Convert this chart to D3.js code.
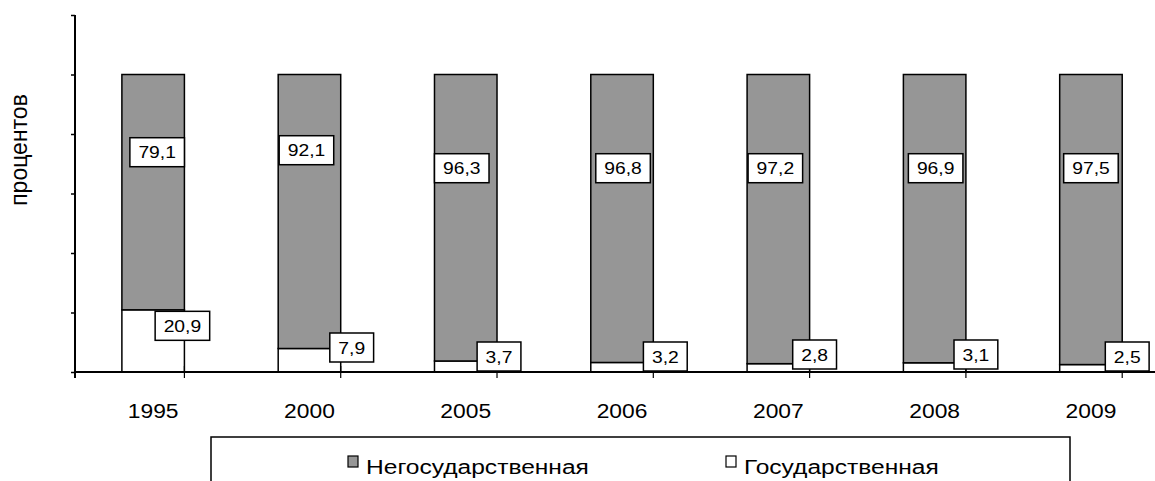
<!DOCTYPE html>
<html>
<head>
<meta charset="utf-8">
<script src="https://cdn.jsdelivr.net/npm/d3@7/dist/d3.min.js"></script>
<style>
  body { margin: 0; background: #fff; }
  text { font-family: Arial, "Liberation Sans", sans-serif; fill: #000; }
</style>
</head>
<body>
<script>
  // data
  var years = ["1995", "2000", "2005", "2006", "2007", "2008", "2009"];
  var nonState = [79.1, 92.1, 96.3, 96.8, 97.2, 96.9, 97.5];
  var state = [20.9, 7.9, 3.7, 3.2, 2.8, 3.1, 2.5];
  var seriesNames = ["Негосударственная", "Государственная"];
  var yTicks = [0, 20, 40, 60, 80, 100, 120];

  // hand-placed label offsets (px) as in the original
  var nonNudge = [[4, -16], [-3, -18], [-4, 0], [1, 0], [-3, 0], [1, 0], [0, 0]];
  var govNudge = [[-8, 0], [5, -9], [-4, 0], [6, 0], [-1, -2], [4, -2], [-1, 0]];

  var width = 1155, height = 481;
  var margin = { top: 15, left: 75, bottom: 109 };
  var axisY = height - margin.bottom; // 372
  var stretch = 1.17; // the source picture is a bit wider than tall

  var svg = d3.select("body").append("svg")
    .attr("width", width)
    .attr("height", height);

  // text drawn with horizontal stretch
  function wideText(x, y, txt, size, anchor) {
    return svg.append("text")
      .attr("transform", "translate(" + x + "," + y + ") scale(" + stretch + ",1)")
      .attr("text-anchor", anchor || "start")
      .style("font-size", size + "px")
      .text(txt);
  }

  var xScale = d3.scaleBand()
    .domain(years)
    .range([margin.left, margin.left + 7 * 156.3])
    .paddingInner(0.6)
    .paddingOuter(0.3);

  var yScale = d3.scaleLinear()
    .domain([0, 120])
    .range([axisY, margin.top]);

  var rows = years.map(function(y, i) {
    return { year: y, gov: state[i], non: nonState[i], i: i };
  });

  // state segment (bottom)
  svg.selectAll("rect.gov")
    .data(rows).enter().append("rect")
    .attr("class", "gov")
    .attr("x", function(d) { return xScale(d.year); })
    .attr("y", function(d) { return yScale(d.gov); })
    .attr("width", xScale.bandwidth())
    .attr("height", function(d) { return yScale(0) - yScale(d.gov); })
    .attr("fill", "#fff")
    .attr("stroke", "#000")
    .attr("stroke-width", 1.5);

  // non-state segment (top)
  svg.selectAll("rect.non")
    .data(rows).enter().append("rect")
    .attr("class", "non")
    .attr("x", function(d) { return xScale(d.year); })
    .attr("y", function(d) { return yScale(d.gov + d.non); })
    .attr("width", xScale.bandwidth())
    .attr("height", function(d) { return yScale(d.gov) - yScale(d.gov + d.non); })
    .attr("fill", "#969696")
    .attr("stroke", "#000")
    .attr("stroke-width", 1.5);

  // y axis
  var yAxis = svg.append("g")
    .attr("transform", "translate(" + margin.left + ",0)")
    .call(d3.axisLeft(yScale).tickValues(yTicks).tickSize(4).tickFormat(""));
  yAxis.select(".domain").attr("stroke-width", 2).attr("d", "M0," + (margin.top) + "V" + (axisY + 6));
  yAxis.selectAll(".tick line").attr("stroke-width", 1.5);

  // x axis line and category separators
  svg.append("line")
    .attr("x1", margin.left).attr("x2", width)
    .attr("y1", axisY).attr("y2", axisY)
    .attr("stroke", "#000").attr("stroke-width", 2);

  var step = xScale.step();
  var bounds = d3.range(years.length + 1).map(function(k) {
    return xScale(years[0]) - xScale.paddingOuter() * step - xScale.paddingInner() * step / 2 + k * step;
  });
  svg.selectAll("line.sep")
    .data(bounds.slice(1)).enter().append("line")
    .attr("class", "sep")
    .attr("x1", function(d) { return d; }).attr("x2", function(d) { return d; })
    .attr("y1", axisY - 6).attr("y2", axisY + 6)
    .attr("stroke", "#000").attr("stroke-width", 1.2);

  // year labels
  years.forEach(function(y) {
    wideText(xScale(y) + xScale.bandwidth() / 2, 418, y, 19.5, "middle");
  });

  // y axis title
  svg.append("text")
    .attr("transform", "translate(27,150) rotate(-90)")
    .attr("text-anchor", "middle")
    .style("font-size", "23px")
    .text("процентов");

  // value labels in boxes
  function boxLabel(cx, cy, txt) {
    var g = svg.append("g");
    var t = g.append("text")
      .attr("transform", "translate(" + cx + "," + (cy + 6) + ") scale(" + stretch + ",1)")
      .attr("text-anchor", "middle")
      .style("font-size", "16.5px")
      .text(txt);
    var w = t.node().getComputedTextLength() * stretch + 17;
    g.insert("rect", "text")
      .attr("x", cx - w / 2).attr("y", cy - 14.5)
      .attr("width", w).attr("height", 29)
      .attr("fill", "#fff").attr("stroke", "#000").attr("stroke-width", 1.5);
  }
  var fmt = function(v) { return d3.format(".1f")(v).replace(".", ","); };

  rows.forEach(function(d) {
    var cx = xScale(d.year) + xScale.bandwidth() / 2 + nonNudge[d.i][0];
    var cy = yScale(68.5) + nonNudge[d.i][1];
    boxLabel(cx, cy, fmt(d.non));
  });
  rows.forEach(function(d) {
    var cx = xScale(d.year) + xScale.bandwidth() + 6 + govNudge[d.i][0];
    var cy = Math.min(yScale(d.gov) + 16, axisY - 15.5) + govNudge[d.i][1];
    boxLabel(cx, cy, fmt(d.gov));
  });

  // legend
  svg.append("rect")
    .attr("x", 211).attr("y", 437)
    .attr("width", 859).attr("height", 60)
    .attr("fill", "#fff").attr("stroke", "#000").attr("stroke-width", 1.5);

  var legendX = [348, 726];
  var legendFill = ["#969696", "#fff"];
  seriesNames.forEach(function(name, i) {
    svg.append("rect")
      .attr("x", legendX[i]).attr("y", 456)
      .attr("width", 10).attr("height", 11)
      .attr("fill", legendFill[i]).attr("stroke", "#000").attr("stroke-width", 1.2);
    wideText(legendX[i] + 18, 474, name, 21);
  });
</script>
</body>
</html>
